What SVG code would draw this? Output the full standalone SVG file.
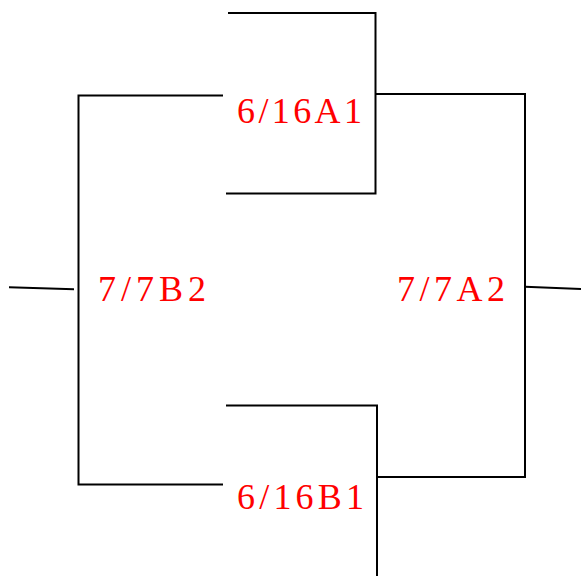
<svg xmlns="http://www.w3.org/2000/svg" width="581" height="576" viewBox="0 0 581 576">
<style>
.ln{stroke:#000;stroke-width:2;fill:none;stroke-linecap:butt}
.lb{font-family:"Liberation Serif","DejaVu Serif",serif;font-size:36px;fill:#ff0000}
</style>
<rect width="581" height="576" fill="#fff"/>
<g id="connectors">
<path class="ln" d="M228,13 H375.5 V193.5 H226"/>
<path class="ln" d="M375.5,94 H525 V477 H377"/>
<path class="ln" d="M226,405.5 H377 V576"/>
<path class="ln" d="M223,95.5 H78.5 V484.5 H223"/>
<path class="ln" d="M9,287.3 L74,289.3"/>
<path class="ln" d="M525,286.7 L581,289"/>
</g>
<g id="n-6-16A1"><text class="lb" x="237" y="122.5" textLength="125" lengthAdjust="spacing">6/16A1</text></g>
<g id="n-7-7B2"><text class="lb" x="98" y="300.5" textLength="108" lengthAdjust="spacing">7/7B2</text></g>
<g id="n-7-7A2"><text class="lb" x="397" y="300.5" textLength="108" lengthAdjust="spacing">7/7A2</text></g>
<g id="n-6-16B1"><text class="lb" x="237" y="508.5" textLength="127" lengthAdjust="spacing">6/16B1</text></g>
</svg>
